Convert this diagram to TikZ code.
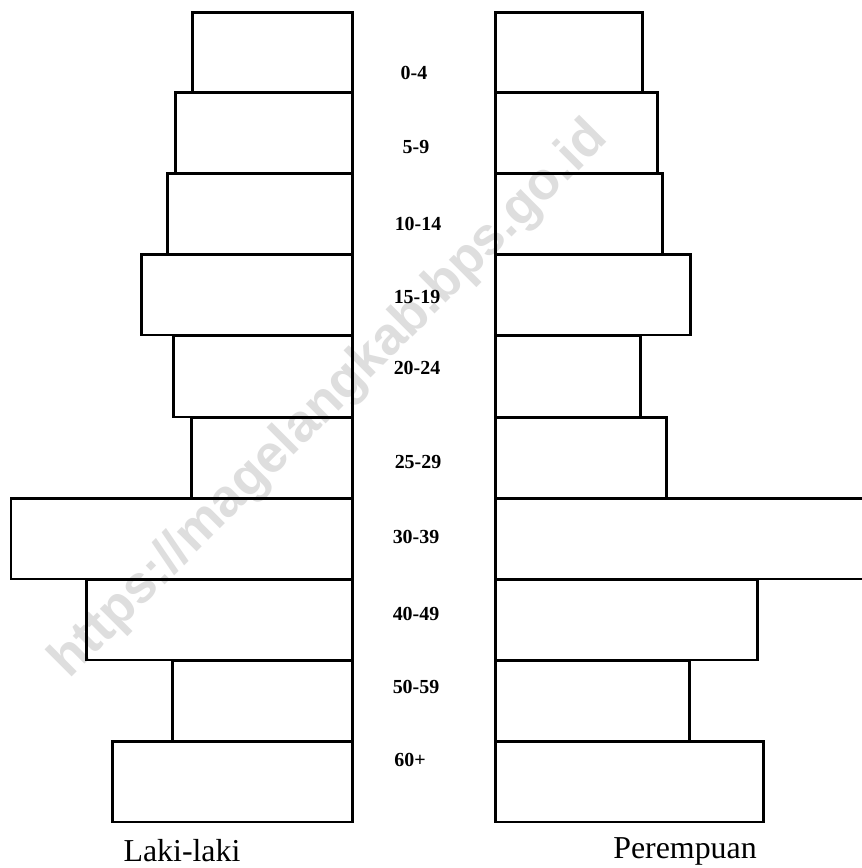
\documentclass[tikz,border=0pt]{standalone}
\usepackage{fontspec}
\setmainfont{Liberation Serif}
\newfontfamily\wmfont{Liberation Sans}
\begin{document}
\begin{tikzpicture}[x=1bp,y=-1bp]
\tikzset{
  barbox/.style={draw=black, line width=2.6bp, inner sep=0pt, rectangle},
  agelbl/.style={font=\fontsize{20}{20}\selectfont\bfseries, inner sep=0pt},
  sexlbl/.style={font=\fontsize{32}{32}\selectfont, inner sep=0pt, anchor=base},
  wmark/.style={font=\wmfont\fontsize{53}{53}\selectfont\bfseries, text=black!13, inner sep=0pt}
}
\fill[white] (0,0) rectangle (862,868);
\useasboundingbox (0,0) rectangle (862,868);
% watermark (behind the bars)
\node[wmark, rotate=45] (wm) at (330,400) {https://magelangkab.bps.go.id};
\begin{scope}
\clip (0,0) rectangle (862,868);
% male bars (left)
\foreach \i/\xl/\yt/\yb in {1/193/11/91, 2/176/91/172, 3/168/172/253, 4/142/253/334, 5/174/334/416, 6/192/416/497, 7/11/497/578, 8/87/578/659, 9/173/659/740, 10/113/740/821}{
  \node[barbox, minimum width={354-\xl}, minimum height={\yb-\yt}, anchor=north east] (m\i) at (354,\yt) {};
}
% female bars (right)
\foreach \i/\xr/\yt/\yb in {1/642/11/91, 2/657/91/172, 3/662/172/253, 4/690/253/334, 5/640/334/416, 6/666/416/497, 7/880/497/578, 8/757/578/659, 9/689/659/740, 10/763/740/821}{
  \node[barbox, minimum width={\xr-494}, minimum height={\yb-\yt}, anchor=north west] (f\i) at (494,\yt) {};
}
\end{scope}
% age labels
\node[agelbl] (a1) at (414,73) {0-4};
\node[agelbl] (a2) at (416,147) {5-9};
\node[agelbl] (a3) at (418,224) {10-14};
\node[agelbl] (a4) at (417,297) {15-19};
\node[agelbl] (a5) at (417,368) {20-24};
\node[agelbl] (a6) at (418,462) {25-29};
\node[agelbl] (a7) at (416,537) {30-39};
\node[agelbl] (a8) at (416,614) {40-49};
\node[agelbl] (a9) at (416,687) {50-59};
\node[agelbl] (a10) at (410,760) {60+};
% sex labels
\node[sexlbl] (lk) at (182,861) {Laki-laki};
\node[sexlbl] (pr) at (685,858) {Perempuan};
\end{tikzpicture}
\end{document}
